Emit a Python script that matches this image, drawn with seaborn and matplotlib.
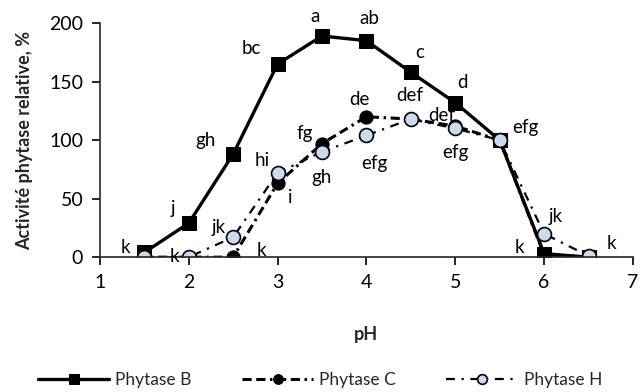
import matplotlib
matplotlib.use("Agg")
import matplotlib.pyplot as plt
import seaborn as sns
import numpy as np

ph = [1.5, 2, 2.5, 3, 3.5, 4, 4.5, 5, 5.5, 6, 6.5]
phytase_b = [4, 29, 88, 165, 189, 185, 158, 132, 100, 3, 0]
phytase_c = [0, 0, 0, 63, 97, 120, 118, 112, 100, 2, 0]
phytase_h = [0, 0, 17, 72, 90, 104, 118, 110, 100, 20, 1]

letters_b = ['k', 'j', 'gh', 'bc', 'a', 'ab', 'c', 'd', '', 'k', 'k']
letters_c = ['', 'k', 'k', 'i', 'fg', 'de', '', 'def', 'efg', '', '']
letters_h = ['', '', 'jk', 'hi', 'gh', 'efg', 'def', 'efg', '', 'jk', '']

sns.set_style("ticks")
plt.rcParams['font.family'] = ['Lato', 'DejaVu Sans']

fig = plt.figure(figsize=(6.4, 3.92), dpi=100)
ax = fig.add_axes([0.156, 0.344, 0.833, 0.597])

sns.lineplot(x=ph, y=phytase_b, ax=ax, color='black', lw=2.4, marker='s', ms=10,
             mec='black', mfc='black', label='Phytase B')
sns.lineplot(x=ph, y=phytase_c, ax=ax, color='black', lw=2.2, ls=(0, (3, 1.5, 3, 1.5, 0.8, 1.5)),
             marker='o', ms=9.5, mec='black', mfc='black', label='Phytase C')
sns.lineplot(x=ph, y=phytase_h, ax=ax, color='black', lw=1.6, ls=(0, (4, 3, 1, 3)), marker='o', ms=10,
             mec='black', mew=1.2, mfc='#c9dbf0', label='Phytase H')

# label offsets in pixels, (dx, dy)
off_b = [(-19, 5), (-16, 15), (-28, 14), (-26, 16), (-7, 19), (3, 22), (9, 20), (7, 20), (0, 0), (-25, 6), (23, 14)]
off_c = [(0, 0), (-14, 1), (28, 7), (13, -14), (-17, 10), (-7, 17), (0, 0), (-14, 11), (26, 13), (0, 0), (0, 0)]
off_h = [(0, 0), (0, 0), (-14, 10), (-15, 12), (0, -26), (8, -28), (-1, 24), (0, -24), (0, 0), (12, 17), (0, 0)]
for vals, labs, offs in [(phytase_b, letters_b, off_b), (phytase_c, letters_c, off_c), (phytase_h, letters_h, off_h)]:
    for x, y, t, o in zip(ph, vals, labs, offs):
        if t:
            ax.annotate(t, (x, y), xytext=o, textcoords='offset pixels', ha='center', va='center',
                        fontsize=13.5, color='black')

ax.set_xlim(1, 7)
ax.set_ylim(0, 200)
ax.set_xticks([1, 2, 3, 4, 5, 6, 7])
ax.set_yticks([0, 50, 100, 150, 200])
ax.tick_params(labelsize=14, length=6, width=1.2, colors='black', pad=6)
sns.despine(ax=ax)
ax.spines['left'].set_linewidth(1.2)
ax.spines['bottom'].set_linewidth(1.2)
ax.set_xlabel('pH', fontsize=13, fontweight='bold')
ax.set_ylabel('Activité phytase relative, %', fontsize=13, fontweight='bold')
ax.xaxis.set_label_coords(0.5, -0.295)
ax.yaxis.set_label_coords(-0.125, 0.5)

leg = ax.legend(loc='center', bbox_to_anchor=(0.5, 0.03), bbox_transform=fig.transFigure, ncol=3,
                frameon=False, fontsize=12.5, handlelength=4.1, columnspacing=2.9, handletextpad=0.35)
for h in leg.legend_handles:
    h.set_markersize(7)

fig.savefig('out.png', dpi=100)
